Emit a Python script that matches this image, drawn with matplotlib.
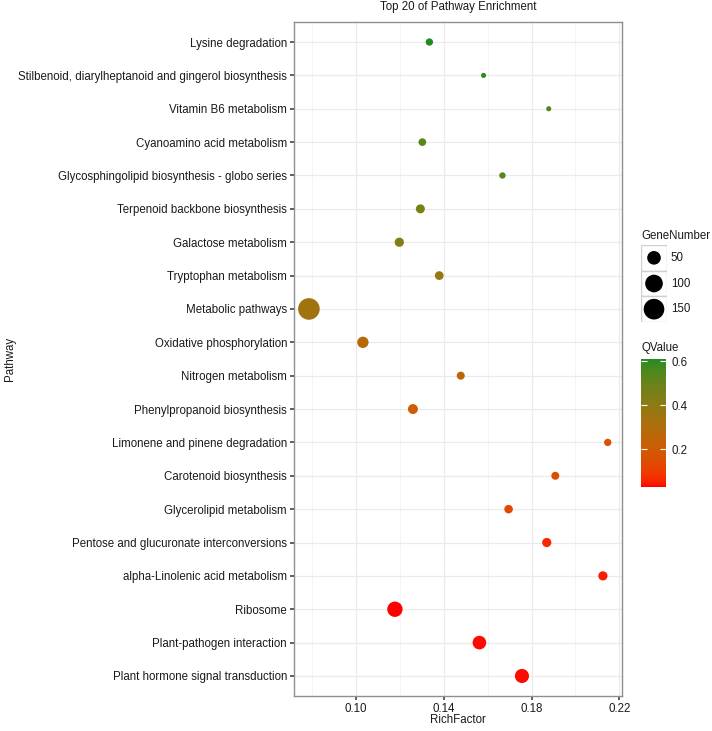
import numpy as np
import matplotlib
matplotlib.use("Agg")
import matplotlib.pyplot as plt
from matplotlib.colors import ListedColormap, Normalize
from matplotlib.cm import ScalarMappable
from matplotlib.patches import Rectangle

plt.rcParams['font.family'] = ['Liberation Sans', 'DejaVu Sans']

# ---------------- data (top to bottom) ----------------
pathways = [
    "Lysine degradation",
    "Stilbenoid, diarylheptanoid and gingerol biosynthesis",
    "Vitamin B6 metabolism",
    "Cyanoamino acid metabolism",
    "Glycosphingolipid biosynthesis - globo series",
    "Terpenoid backbone biosynthesis",
    "Galactose metabolism",
    "Tryptophan metabolism",
    "Metabolic pathways",
    "Oxidative phosphorylation",
    "Nitrogen metabolism",
    "Phenylpropanoid biosynthesis",
    "Limonene and pinene degradation",
    "Carotenoid biosynthesis",
    "Glycerolipid metabolism",
    "Pentose and glucuronate interconversions",
    "alpha-Linolenic acid metabolism",
    "Ribosome",
    "Plant-pathogen interaction",
    "Plant hormone signal transduction",
]
rich_factor = [0.1334, 0.1581, 0.1878, 0.1302, 0.1667, 0.1293, 0.1197, 0.1379,
               0.0785, 0.1031, 0.1477, 0.1259, 0.2147, 0.1908, 0.1695, 0.1869,
               0.2125, 0.1177, 0.1562, 0.1756]
gene_number = [10, 7, 7, 11, 8, 16, 17, 15,
               168, 30, 12, 21, 10, 12, 14, 17,
               17, 69, 50, 55]
q_value = [0.61, 0.60, 0.56, 0.53, 0.53, 0.46, 0.43, 0.38,
           0.35, 0.28, 0.25, 0.20, 0.17, 0.15, 0.13, 0.06,
           0.05, 0.03, 0.035, 0.035]
x_ticks = [0.10, 0.14, 0.18, 0.22]
x_tick_labels = ["0.10", "0.14", "0.18", "0.22"]
size_breaks = [50, 100, 150]
q_ticks = [0.2, 0.4, 0.6]

# ---------------- Lab gradient (red -> forestgreen) ----------------
def _lin(c):
    c = np.asarray(c, float)
    return np.where(c <= 0.04045, c / 12.92, ((c + 0.055) / 1.055) ** 2.4)

def _delin(c):
    c = np.clip(c, 0, 1)
    return np.where(c <= 0.0031308, 12.92 * c, 1.055 * c ** (1 / 2.4) - 0.055)

M = np.array([[0.4124, 0.3576, 0.1805],
              [0.2126, 0.7152, 0.0722],
              [0.0193, 0.1192, 0.9505]])
WP = np.array([0.95047, 1.0, 1.08883])

def rgb2lab(rgb):
    xyz = M @ _lin(rgb) / WP
    f = np.where(xyz > 0.008856, np.cbrt(xyz), 7.787 * xyz + 16 / 116)
    return np.array([116 * f[1] - 16, 500 * (f[0] - f[1]), 200 * (f[1] - f[2])])

def lab2rgb(lab):
    L, a, b = lab
    fy = (L + 16) / 116
    fx = fy + a / 500
    fz = fy - b / 200
    f = np.array([fx, fy, fz])
    xyz = np.where(f ** 3 > 0.008856, f ** 3, (f - 16 / 116) / 7.787) * WP
    return _delin(np.linalg.inv(M) @ xyz)

low = rgb2lab(np.array([1.0, 0.0, 0.0]))
high = rgb2lab(np.array([0x22, 0x8B, 0x22]) / 255)
cols = [lab2rgb(low + (high - low) * t) for t in np.linspace(0, 1, 256)]
cmap = ListedColormap(cols)
norm = Normalize(min(q_value), max(q_value))

# ---------------- size mapping ----------------
gmin, gmax = min(gene_number), max(gene_number)
DPI = 100

def marker_s(n):
    n = np.asarray(n, float)
    d_px = 3.3 * (1 + 5 * np.sqrt(np.clip((n - gmin) / (gmax - gmin), 0, 1))) + 1.8
    return (d_px * 72 / DPI) ** 2

# ---------------- figure ----------------
W, H = 712, 731
fig = plt.figure(figsize=(W / DPI, H / DPI), dpi=DPI)

def px_box(l, t, r, b):
    return [l / W, 1 - b / H, (r - l) / W, (b - t) / H]

ax = fig.add_axes(px_box(294, 22, 622, 696))
n = len(pathways)
ypos = np.arange(n)[::-1]
ax.scatter(rich_factor, ypos, s=marker_s(gene_number), c=q_value, cmap=cmap,
           norm=norm, edgecolors='none', zorder=3)
ax.set_xlim(0.0717, 0.2212)
ax.set_ylim(-0.6, n - 1 + 0.6)
ax.set_xticks(x_ticks)
ax.set_xticklabels(x_tick_labels)
ax.set_xticks([0.08, 0.12, 0.16, 0.20], minor=True)
ax.set_yticks(ypos)
ax.set_yticklabels(pathways)
ax.grid(True, which='major', color='#EBEBEB', linewidth=0.9, zorder=0)
ax.grid(True, which='minor', axis='x', color='#F3F3F3', linewidth=0.6, zorder=0)
ax.set_axisbelow(True)
ax.tick_params(axis='both', which='major', length=3.2, width=1.1, color='#333333',
               labelsize=8.3, labelcolor='#1a1a1a', pad=1.8)
ax.tick_params(axis='x', which='minor', length=0)
for sp in ax.spines.values():
    sp.set_color('#8f8f8f')
    sp.set_linewidth(1.0)

fig.text(458 / W, 1 - 7 / H, "Top 20 of Pathway Enrichment", ha='center', va='center',
         fontsize=8.3, color='#1a1a1a')
fig.text(458 / W, 1 - 720 / H, "RichFactor", ha='center', va='center',
         fontsize=8.3, color='#1a1a1a')
fig.text(10 / W, 1 - 359 / H, "Pathway", ha='center', va='center', rotation=90,
         fontsize=8.3, color='#1a1a1a')

# ---------------- size legend ----------------
fig.text(641 / W, 1 - 236 / H, "GeneNumber", ha='left', va='center', fontsize=8.3,
         color='#1a1a1a')
lax = fig.add_axes(px_box(641, 245, 667, 322))
lax.set_xlim(0, 1)
lax.set_ylim(0, 3)
lax.axis('off')
for i, val in enumerate(size_breaks):
    yc = 2.5 - i
    lax.add_patch(Rectangle((0, yc - 0.5), 1, 1, facecolor='white', edgecolor='#D0D0D0',
                            linewidth=1.0, zorder=1))
    lax.scatter([0.5], [yc], s=marker_s(val), color='black', edgecolors='none', zorder=2)
    lax.text(1.15, yc, str(val), ha='left', va='center', fontsize=8.3,
             color='#1a1a1a', transform=lax.transData, clip_on=False)

# ---------------- colour bar ----------------
fig.text(641 / W, 1 - 348 / H, "QValue", ha='left', va='center', fontsize=8.3,
         color='#1a1a1a')
cax = fig.add_axes(px_box(641, 359, 666, 487))
sm = ScalarMappable(norm=norm, cmap=cmap)
cb = fig.colorbar(sm, cax=cax)
cb.outline.set_visible(False)
cb.set_ticks(q_ticks)
cb.set_ticklabels([f"{t:.1f}" for t in q_ticks])
cax.tick_params(which='major', direction='in', length=4.5, width=0.8, color='white',
                left=True, right=True, labelleft=False, labelright=True,
                labelsize=8.3, labelcolor='#1a1a1a', pad=4)
cax.tick_params(which='minor', length=0)

fig.savefig("out.png", dpi=DPI)
